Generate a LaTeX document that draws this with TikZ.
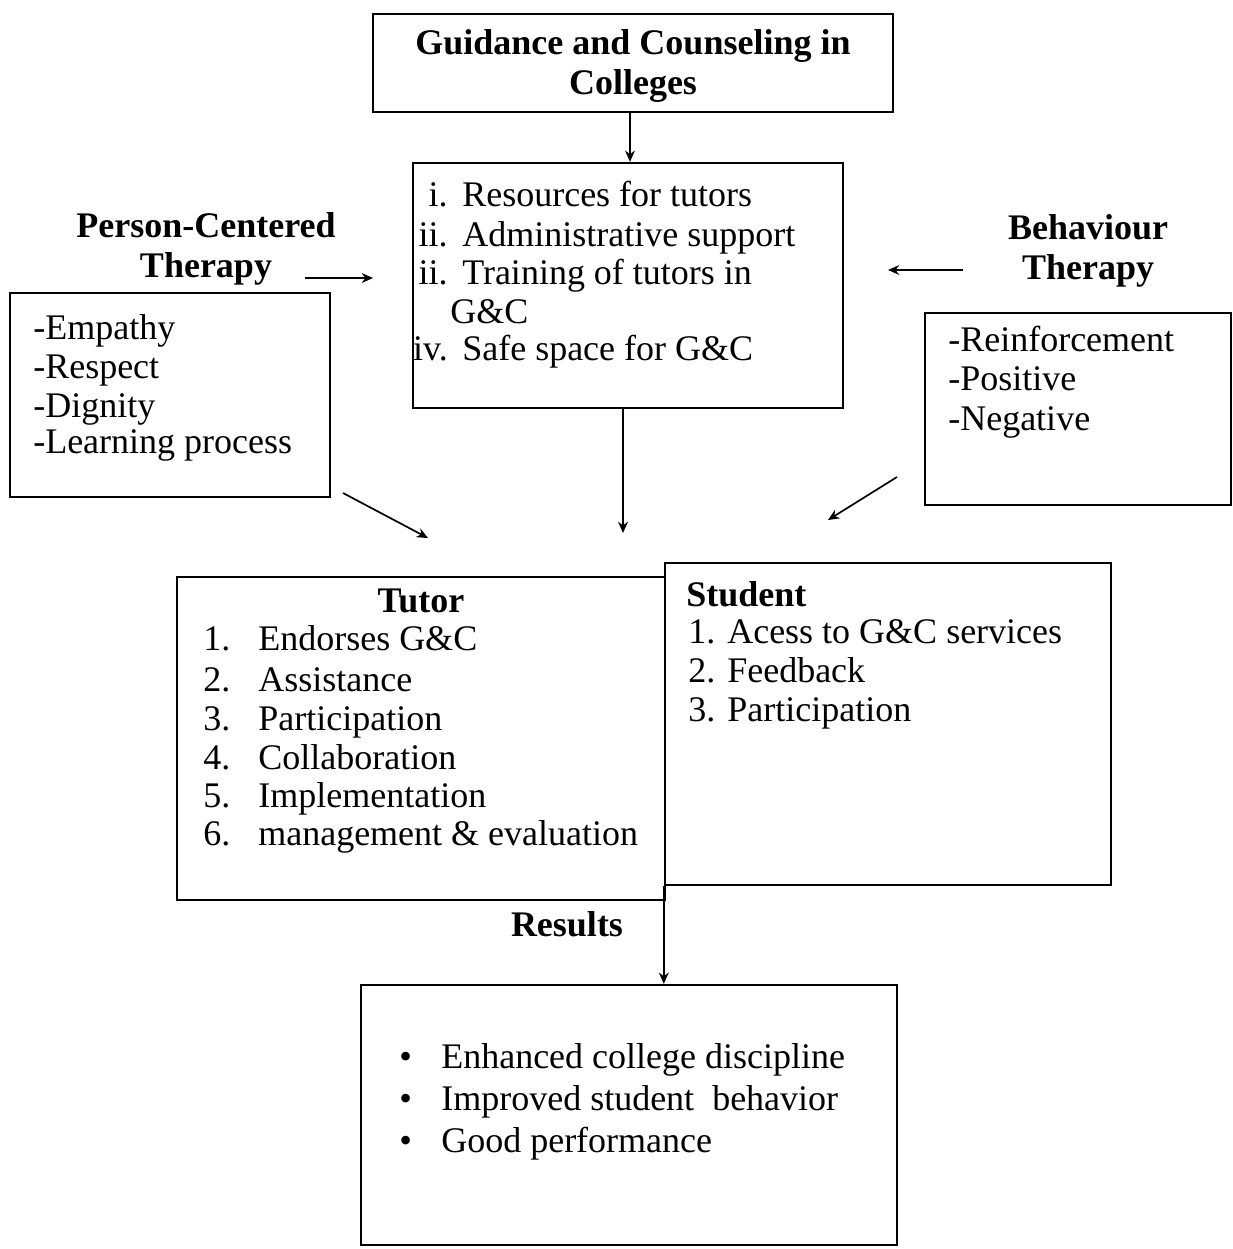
\documentclass[tikz,border=0pt]{standalone}
\usepackage{fontspec}
\setmainfont{Liberation Serif}
\usetikzlibrary{arrows.meta}
\begin{document}
\begin{tikzpicture}[x=0.025cm,y=-0.025cm,
  box/.style={draw, line width=1.6pt, rectangle, inner sep=0pt},
  txt/.style={font=\fontsize{25.6}{27.4}\selectfont, inner sep=0pt, anchor=base west},
  btxt/.style={font=\fontsize{25.6}{29}\selectfont\bfseries, inner sep=0pt, align=center},
  num/.style={font=\fontsize{25.6}{27.4}\selectfont, inner sep=0pt, anchor=base east},
  conn/.style={line width=1.2pt, -{Stealth[length=8pt,width=7pt]}}]
\useasboundingbox (0,0) rectangle (1232,1249);

% boxes
\node[box, minimum width=13cm, minimum height=2.45cm] (title) at (633,63) {};
\node[btxt] (titletxt) at (633,66) {Guidance and Counseling in\\Colleges};
\node[box, minimum width=10.75cm, minimum height=6.125cm] (res) at (628,285.5) {};
\node[box, minimum width=8cm, minimum height=5.1cm] (lbox) at (170,395) {};
\node[box, minimum width=7.65cm, minimum height=4.8cm] (rbox) at (1078,409) {};
\node[box, minimum width=12.2cm, minimum height=8.075cm] (tutor) at (421,738.5) {};
\node[box, minimum width=11.15cm, minimum height=8.05cm] (student) at (888,724) {};
\node[box, minimum width=13.4cm, minimum height=6.5cm] (results) at (629,1115) {};

% labels
\node[btxt] (pct) at (206,249) {Person-Centered\\Therapy};
\node[btxt] (bt) at (1088,251) {Behaviour\\Therapy};
\node[btxt] (reslabel) at (567,924) {Results};

% center box list
\node[num] (n1) at (448,206) {i.};
\node[txt] (r1) at (462,206) {Resources for tutors};
\node[num] (n2) at (448,246) {ii.};
\node[txt] (r2) at (462,246) {Administrative support};
\node[num] (n3) at (448,284) {ii.};
\node[txt] (r3) at (462,284) {Training of tutors in};
\node[txt] (r3b) at (450,323) {G\&C};
\node[num] (n4) at (448,360) {iv.};
\node[txt] (r4) at (462,360) {Safe space for G\&C};

% left box list
\node[txt] (l1) at (33,339) {-Empathy};
\node[txt] (l2) at (33,378) {-Respect};
\node[txt] (l3) at (33,417) {-Dignity};
\node[txt] (l4) at (33,453) {-Learning process};

% right box list
\node[txt] (b1) at (948,351) {-Reinforcement};
\node[txt] (b2) at (948,390) {-Positive};
\node[txt] (b3) at (948,430) {-Negative};

% tutor
\node[btxt, anchor=base] (tt) at (421,612) {Tutor};
\node[txt] (t1n) at (203,650) {1.};
\node[txt] (t1) at (258,650) {Endorses G\&C};
\node[txt] (t2n) at (203,691) {2.};
\node[txt] (t2) at (258,691) {Assistance};
\node[txt] (t3n) at (203,730) {3.};
\node[txt] (t3) at (258,730) {Participation};
\node[txt] (t4n) at (203,769) {4.};
\node[txt] (t4) at (258,769) {Collaboration};
\node[txt] (t5n) at (203,807) {5.};
\node[txt] (t5) at (258,807) {Implementation};
\node[txt] (t6n) at (203,845) {6.};
\node[txt] (t6) at (258,845) {management \& evaluation};

% student
\node[btxt, anchor=base west] (st) at (686,606) {Student};
\node[txt] (s1) at (688,643) {1. Acess to G\&C services};
\node[txt] (s2) at (688,682) {2. Feedback};
\node[txt] (s3) at (688,721) {3. Participation};

% results list
\node[txt] (p1b) at (399,1068) {\textbullet};
\node[txt] (p1) at (441,1068) {Enhanced college discipline};
\node[txt] (p2b) at (399,1110) {\textbullet};
\node[txt] (p2) at (441,1110) {Improved student\ \ behavior};
\node[txt] (p3b) at (399,1152) {\textbullet};
\node[txt] (p3) at (441,1152) {Good performance};

% connectors
\coordinate (c1) at (630,112);
\draw[conn] (c1) -- (c1 |- res.north);
\coordinate (la1) at (305,278);
\coordinate (la2) at (373,278);
\draw[conn] (la1) -- (la2);
\coordinate (ra1) at (963,270);
\coordinate (ra2) at (888,270);
\draw[conn] (ra1) -- (ra2);
\coordinate (d1) at (343,493);
\coordinate (d2) at (428,538);
\draw[conn] (d1) -- (d2);
\coordinate (e1) at (897,477);
\coordinate (e2) at (828,520);
\draw[conn] (e1) -- (e2);
\coordinate (m1) at (623,408);
\coordinate (m2) at (623,533);
\draw[conn] (m1) -- (m2);
\draw[conn] (student.south west) -- (student.south west |- results.north);
\end{tikzpicture}
\end{document}
